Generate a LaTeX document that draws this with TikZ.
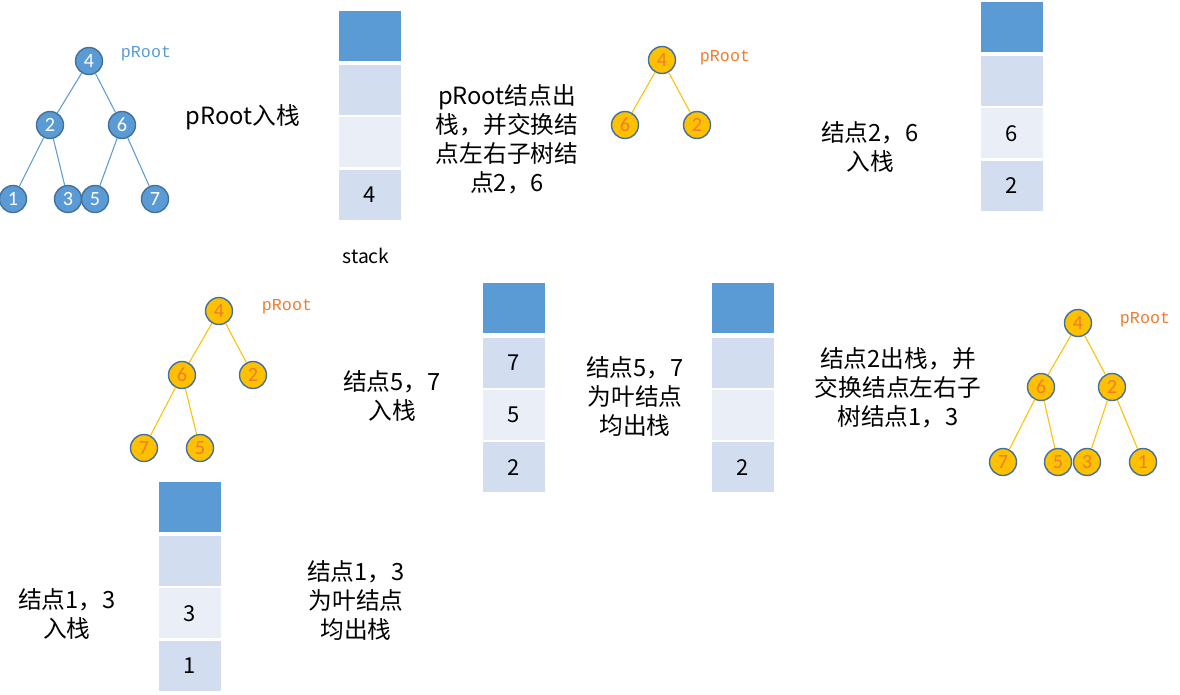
\documentclass[tikz,border=0pt]{standalone}
\usepackage{fontspec}
\setmainfont{Noto Sans CJK SC}
\newfontfamily\numfont{Carlito}
\newfontfamily\labfont{Liberation Mono}
\usetikzlibrary{positioning}
\definecolor{nodeblue}{HTML}{5B9BD5}
\definecolor{nodeedge}{HTML}{41719C}
\definecolor{nodegold}{HTML}{FFC000}
\definecolor{numorange}{HTML}{ED7D31}
\definecolor{bandA}{HTML}{D2DEEF}
\definecolor{bandB}{HTML}{EAEFF7}

\begin{document}
\begin{tikzpicture}[x=0.02cm, y=-0.02cm, node distance=0mm,
  bnode/.style={circle, draw=nodeedge, line width=0.8pt, fill=nodeblue, minimum size=0.54cm,
                inner sep=0pt, text=white, font=\numfont\fontsize{11.5}{11.5}\selectfont},
  onode/.style={bnode, fill=nodegold, text=numorange},
  bedge/.style={nodeblue, line width=0.6pt},
  oedge/.style={nodegold, line width=0.6pt},
  rootlab/.style={font=\labfont\fontsize{9.5}{10}\selectfont},
  cell/.style={minimum width=1.24cm, minimum height=1.0cm, inner sep=0pt, font=\fontsize{12.5}{12.5}\selectfont},
  note/.style={align=center, font=\fontsize{13.5}{16.5}\selectfont},
]
  \useasboundingbox (0,0) rectangle (1180,694);

  % Tree 1: original tree
  \node[bnode] (t1n4) at (89,61)  {4};
  \node[bnode] (t1n2) at (50,125) {2};
  \node[bnode] (t1n6) at (122,125) {6};
  \node[bnode] (t1n1) at (13,199) {1};
  \node[bnode] (t1n3) at (68,199) {3};
  \node[bnode] (t1n5) at (95,199) {5};
  \node[bnode] (t1n7) at (155,199) {7};
  \draw[bedge] (t1n4) -- (t1n2);
  \draw[bedge] (t1n4) -- (t1n6);
  \draw[bedge] (t1n2) -- (t1n1);
  \draw[bedge] (t1n2) -- (t1n3);
  \draw[bedge] (t1n6) -- (t1n5);
  \draw[bedge] (t1n6) -- (t1n7);
  \node[rootlab, text=nodeblue] (t1root) at (146,54) {pRoot};

  \node[note] (txt1) at (243,117) {pRoot入栈};

  % Stack 1
  \node[cell, fill=nodeblue] (s1top) at (370,35.5) {};
  \node[cell, fill=bandA, below=0.08cm of s1top] (s1c3) {};
  \node[cell, fill=bandB, below=0.03cm of s1c3]  (s1c2) {};
  \node[cell, fill=bandA, below=0.03cm of s1c2]  (s1c1) {4};
  \node[font=\fontsize{11}{11}\selectfont] (s1lab) at (366,256) {stack};

  \node[note] (txt2) at (507,139) {pRoot结点出\\栈，并交换结\\点左右子树结\\点2，6};

  % Tree 2: root swapped
  \node[onode] (t2n4) at (662,60)  {4};
  \node[onode] (t2n6) at (625,125) {6};
  \node[onode] (t2n2) at (697,125) {2};
  \draw[oedge] (t2n4) -- (t2n6);
  \draw[oedge] (t2n4) -- (t2n2);
  \node[rootlab, text=numorange] (t2root) at (725,58) {pRoot};

  \node[note] (txt3) at (870,147) {结点2，6\\入栈};

  % Stack 2
  \node[cell, fill=nodeblue] (s2top) at (1012,26.5) {};
  \node[cell, fill=bandA, below=0.08cm of s2top] (s2c3) {};
  \node[cell, fill=bandB, below=0.03cm of s2c3]  (s2c2) {6};
  \node[cell, fill=bandA, below=0.03cm of s2c2]  (s2c1) {2};

  % Tree 3: node 6 swapped
  \node[onode] (t3n4) at (219,311) {4};
  \node[onode] (t3n6) at (182,375) {6};
  \node[onode] (t3n2) at (253,375) {2};
  \node[onode] (t3n7) at (144,448) {7};
  \node[onode] (t3n5) at (200,448) {5};
  \draw[oedge] (t3n4) -- (t3n6);
  \draw[oedge] (t3n4) -- (t3n2);
  \draw[oedge] (t3n6) -- (t3n7);
  \draw[oedge] (t3n6) -- (t3n5);
  \node[rootlab, text=numorange] (t3root) at (287,307) {pRoot};

  \node[note] (txt4) at (392,396) {结点5，7\\入栈};

  % Stack 3
  \node[cell, fill=nodeblue] (s3top) at (513.5,308) {};
  \node[cell, fill=bandA, below=0.08cm of s3top] (s3c3) {7};
  \node[cell, fill=bandB, below=0.03cm of s3c3]  (s3c2) {5};
  \node[cell, fill=bandA, below=0.03cm of s3c2]  (s3c1) {2};

  \node[note] (txt5) at (635,396) {结点5，7\\为叶结点\\均出栈};

  % Stack 4
  \node[cell, fill=nodeblue] (s4top) at (743,308) {};
  \node[cell, fill=bandA, below=0.08cm of s4top] (s4c3) {};
  \node[cell, fill=bandB, below=0.03cm of s4c3]  (s4c2) {};
  \node[cell, fill=bandA, below=0.03cm of s4c2]  (s4c1) {2};

  \node[note] (txt6) at (898,388) {结点2出栈，并\\交换结点左右子\\树结点1，3};

  % Tree 4: node 2 swapped
  \node[onode] (t4n4) at (1078,323) {4};
  \node[onode] (t4n6) at (1041,387) {6};
  \node[onode] (t4n2) at (1112,387) {2};
  \node[onode] (t4n7) at (1003,462) {7};
  \node[onode] (t4n5) at (1058,462) {5};
  \node[onode] (t4n3) at (1087,462) {3};
  \node[onode] (t4n1) at (1143,462) {1};
  \draw[oedge] (t4n4) -- (t4n6);
  \draw[oedge] (t4n4) -- (t4n2);
  \draw[oedge] (t4n6) -- (t4n7);
  \draw[oedge] (t4n6) -- (t4n5);
  \draw[oedge] (t4n2) -- (t4n3);
  \draw[oedge] (t4n2) -- (t4n1);
  \node[rootlab, text=numorange] (t4root) at (1145,320) {pRoot};

  % Stack 5
  \node[cell, fill=nodeblue] (s5top) at (190,506.5) {};
  \node[cell, fill=bandA, below=0.08cm of s5top] (s5c3) {};
  \node[cell, fill=bandB, below=0.03cm of s5c3]  (s5c2) {3};
  \node[cell, fill=bandA, below=0.03cm of s5c2]  (s5c1) {1};

  \node[note] (txt7) at (67,614) {结点1，3\\入栈};
  \node[note] (txt8) at (356,600) {结点1，3\\为叶结点\\均出栈};
\end{tikzpicture}
\end{document}
